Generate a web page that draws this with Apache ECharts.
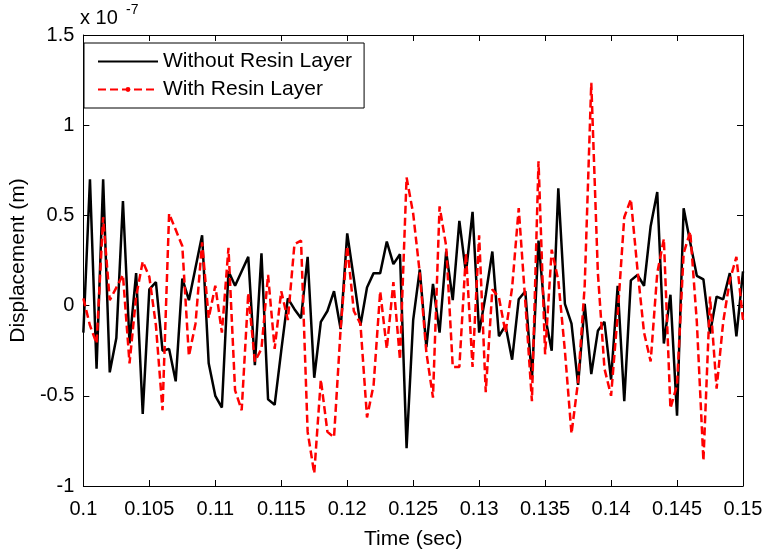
<!DOCTYPE html>
<html>
<head>
<meta charset="utf-8">
<script src="https://cdn.jsdelivr.net/npm/echarts@6/dist/echarts.min.js"></script>
<style>
html,body{margin:0;padding:0;background:#fff;}
#c{width:767px;height:555px;}
</style>
</head>
<body>
<div id="c"></div>
<script>
// Time grid: 0.1 .. 0.15 s, step 0.0005 s (101 samples)
const tStart = 0.1, tStep = 0.0005, nSamples = 101;
const times = Array.from({length: nSamples}, (_, i) => +(tStart + i * tStep).toFixed(4));

// Displacement (x 1e-7 m)
const withoutResin = [
  -0.15, 0.70, -0.35, 0.70, -0.37, -0.18, 0.58, -0.21, 0.18, -0.60,
   0.09, 0.13, -0.25, -0.24, -0.42, 0.15, 0.03, 0.21, 0.39, -0.32,
  -0.50, -0.565, 0.19, 0.11, 0.19, 0.27, -0.33, 0.29, -0.52, -0.55,
  -0.25, 0.04, -0.02, -0.07, 0.27, -0.40, -0.09, -0.03, 0.08, -0.13,
   0.40, 0.15, -0.11, 0.10, 0.18, 0.18, 0.355, 0.23, 0.285, -0.79,
  -0.08, 0.20, -0.23, 0.12, -0.15, 0.30, 0.03, 0.47, 0.18, 0.52,
  -0.15, 0.06, 0.30, -0.17, -0.11, -0.30, 0.035, 0.08, -0.41, 0.36,
  -0.06, -0.25, 0.65, 0.01, -0.10, -0.44, 0.01, -0.38, -0.14, -0.09,
  -0.41, 0.11, -0.53, 0.14, 0.17, 0.11, 0.44, 0.63, -0.21, 0.06,
  -0.61, 0.54, 0.35, 0.165, 0.145, -0.155, 0.05, 0.035, 0.18, -0.17,
   0.19
];
const withResin = [
   0.04, -0.11, -0.21, 0.49, 0.03, 0.10, 0.17, -0.32, 0.05, 0.245,
   0.16, -0.11, -0.58, 0.51, 0.42, 0.33, -0.28, -0.10, 0.35, -0.07,
   0.11, -0.15, 0.32, -0.47, -0.58, 0.07, -0.31, -0.24, 0.17, -0.24,
   0.08, -0.08, 0.34, 0.36, -0.70, -0.93, -0.41, -0.70, -0.73, -0.13,
   0.33, -0.03, -0.10, -0.62, -0.44, 0.08, -0.24, 0.13, -0.30, 0.71,
   0.51, 0.18, -0.26, -0.51, 0.55, 0.33, -0.34, -0.34, 0.29, -0.34,
   0.39, -0.48, 0.09, 0.045, -0.15, 0.10, 0.54, 0.02, -0.53, 0.80,
  -0.27, 0.31, 0.14, -0.25, -0.71, -0.42, 0.11, 1.235, 0.18, -0.35,
  -0.50, -0.05, 0.49, 0.59, 0.20, -0.15, -0.31, 0.18, 0.37, -0.57,
  -0.44, 0.29, 0.41, -0.09, -0.86, 0.05, -0.46, -0.09, 0.14, 0.27,
  -0.08
];

const seriesNames = ['Without Resin Layer', 'With Resin Layer'];
const xTitle = 'Time (sec)';
const yTitle = 'Displacement (m)';

const FONT = 'Liberation Sans, Arial, Helvetica, sans-serif';
const chart = echarts.init(document.getElementById('c'), null, {renderer: 'canvas'});

const fmt = v => String(+v.toFixed(3));
const axisCommon = {
  axisLine: {show: true, onZero: false, lineStyle: {color: '#000', width: 1}},
  axisTick: {show: true, inside: true, length: 6, lineStyle: {color: '#000'}},
  splitLine: {show: false}
};

chart.setOption({
  animation: false,
  backgroundColor: '#fff',
  grid: {left: 76, right: 24, top: 35, bottom: 68, containLabel: false},
  legend: {
    orient: 'vertical', left: 84, top: 43,
    data: [
      {name: seriesNames[0], itemStyle: {opacity: 0}},
      {name: seriesNames[1]}
    ],
    itemWidth: 60, itemHeight: 6, itemGap: 7,
    padding: [8, 12, 8, 13],
    backgroundColor: '#fff', borderColor: '#000', borderWidth: 1,
    textStyle: {fontFamily: FONT, fontSize: 21, color: '#000'}
  },
  graphic: [
    {type: 'text', left: 80, top: 8, style: {text: 'x 10', font: '20px ' + FONT, fill: '#000'}},
    {type: 'text', left: 126, top: 3, style: {text: '-7', font: '14px ' + FONT, fill: '#000'}}
  ],
  xAxis: [
    Object.assign({
      type: 'value', min: 0.1, max: 0.15, interval: 0.005,
      name: xTitle, nameLocation: 'middle', nameGap: 43,
      nameTextStyle: {fontFamily: FONT, fontSize: 21, color: '#000'},
      axisLabel: {formatter: fmt, fontFamily: FONT, fontSize: 20, color: '#000', margin: 13}
    }, axisCommon),
    Object.assign({
      type: 'value', position: 'top', min: 0.1, max: 0.15, interval: 0.005,
      axisLabel: {show: false}
    }, axisCommon)
  ],
  yAxis: [
    Object.assign({
      type: 'value', min: -1, max: 1.5, interval: 0.5,
      name: yTitle, nameLocation: 'middle', nameGap: 54,
      nameTextStyle: {fontFamily: FONT, fontSize: 21, color: '#000'},
      axisLabel: {formatter: fmt, fontFamily: FONT, fontSize: 20, color: '#000', margin: 9}
    }, axisCommon),
    Object.assign({
      type: 'value', position: 'right', min: -1, max: 1.5, interval: 0.5,
      axisLabel: {show: false}
    }, axisCommon)
  ],
  series: [
    {
      name: seriesNames[0], type: 'line', xAxisIndex: 0, yAxisIndex: 0,
      data: times.map((t, i) => [t, withoutResin[i]]),
      symbol: 'none', lineStyle: {color: '#000', width: 2.5},
      itemStyle: {color: '#000'}, z: 2
    },
    {
      name: seriesNames[1], type: 'line', xAxisIndex: 0, yAxisIndex: 0,
      data: times.map((t, i) => [t, withResin[i]]),
      symbol: 'circle', symbolSize: 5, showSymbol: false,
      lineStyle: {color: '#ff0000', width: 2.5, type: [8, 4]},
      itemStyle: {color: '#ff0000'}, z: 3
    }
  ]
});
</script>
</body>
</html>
